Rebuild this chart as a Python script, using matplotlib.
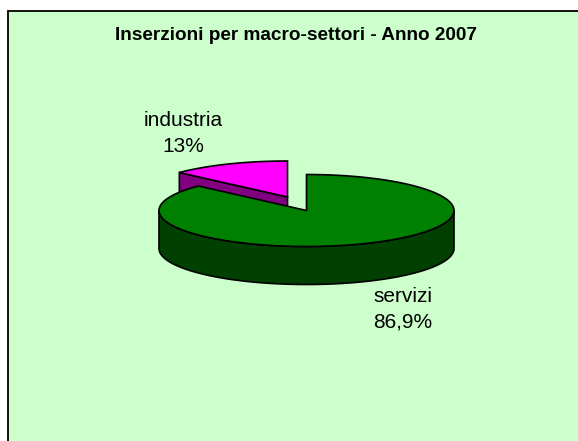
import numpy as np
import matplotlib
matplotlib.use("Agg")
import matplotlib.pyplot as plt
from matplotlib.patches import Polygon, Rectangle

title = "Inserzioni per macro-settori - Anno 2007"
categories = ["servizi", "industria"]
values = [86.9, 13.1]
value_labels = ["86,9%", "13%"]
top_colors = ["#008000", "#FF00FF"]
side_colors = ["#004000", "#800080"]

W, H = 578, 441
fig = plt.figure(figsize=(W / 100, H / 100), dpi=100, facecolor="white")
ax = fig.add_axes([0, 0, 1, 1])
ax.set_xlim(0, W)
ax.set_ylim(H, 0)
ax.axis("off")

ax.add_patch(Rectangle((7.5, 10.5), 590, 460, fc="#CCFFCC", ec="black", lw=1.3, zorder=0, clip_on=True))

cx, cy, rx, ry, depth = 306.5, 210.5, 147.5, 36.0, 38.0
off = (-19.0, -13.5)
ec = "black"
lw = 1.2


def rim(a0, a1, c=(cx, cy), n=200):
    t = np.radians(np.linspace(a0, a1, n))
    return np.c_[c[0] + rx * np.sin(t), c[1] - ry * np.cos(t)]


# angles clockwise from 12 o'clock, from the data
fr = np.array(values) / sum(values) * 360
a_serv = (0, fr[0])
a_ind = (fr[0], 360)

# exploded slice
c2 = (cx + off[0], cy + off[1])
start = rim(a_ind[0], a_ind[0], c2, 2)[0]
face = np.array([c2, start, start + [0, depth], np.array(c2) + [0, depth]])
ax.add_patch(Polygon(face, fc=side_colors[1], ec=ec, lw=lw, zorder=1))
ax.add_patch(Polygon(np.vstack([[c2], rim(*a_ind, c2)]), fc=top_colors[1], ec=ec, lw=lw, zorder=2))

# main slice
front = rim(90, 270)
ax.add_patch(Polygon(np.vstack([front, (front + [0, depth])[::-1]]), fc=side_colors[0], ec=ec, lw=lw, zorder=3))
ax.add_patch(Polygon(np.vstack([[(cx, cy)], rim(*a_serv)]), fc=top_colors[0], ec=ec, lw=lw, zorder=4))

font = "Liberation Sans"
ax.text(296, 35, title, family=font, weight="bold", fontsize=13.7, ha="center", va="center", color="black")
ax.text(183, 121, categories[1], family=font, fontsize=15, ha="center", va="center")
ax.text(183, 147, value_labels[1], family=font, fontsize=15, ha="center", va="center")
ax.text(403, 297, categories[0], family=font, fontsize=15, ha="center", va="center")
ax.text(403, 322, value_labels[0], family=font, fontsize=15, ha="center", va="center")

fig.savefig("out.png", dpi=100, facecolor="white")
